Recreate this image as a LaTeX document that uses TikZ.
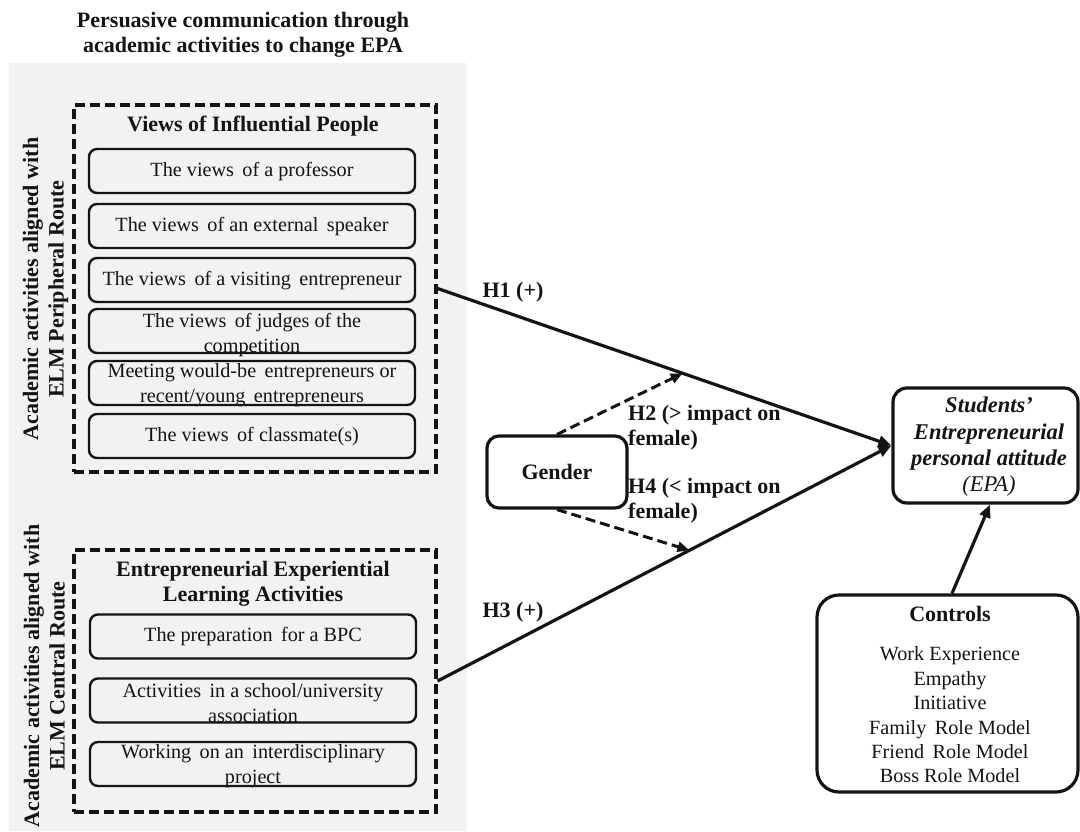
\documentclass[tikz,border=0pt]{standalone}
\usepackage{fontspec}
\setmainfont{Liberation Serif}
\usetikzlibrary{arrows.meta,calc}
\definecolor{bggray}{HTML}{F2F2F2}
\definecolor{ink}{HTML}{141414}
\begin{document}
\begin{tikzpicture}[x=1pt,y=-1pt,
  ttl/.style={font=\fontsize{22}{25.5}\selectfont\bfseries, align=center, text=ink, inner sep=0pt},
  txt/.style={font=\fontsize{20.2}{24.8}\selectfont, align=center, text=ink, inner sep=0pt},
  inbox/.style={draw=ink, line width=2.4pt, rounded corners=8pt, minimum width=326pt, minimum height=44pt, inner sep=0pt},
  dbox/.style={draw=ink, line width=3.2pt, dash pattern=on 10pt off 5pt, minimum width=362pt, inner sep=0pt},
  rbox/.style={draw=ink, line width=3.2pt, inner sep=0pt},
  conn/.style={draw=ink, line width=3.2pt, -{Triangle[length=13pt,width=11pt]}},
  dconn/.style={draw=ink, line width=3pt, dash pattern=on 10pt off 5pt, -{Triangle[length=12pt,width=10pt]}},
  hlab/.style={font=\fontsize{22}{25}\selectfont\bfseries, align=left, text=ink, inner sep=0pt}
]
\clip (0,0) rectangle (1080,831);
\fill[white] (0,0) rectangle (1080,831);
\fill[bggray] (9,63) rectangle (467,831);

\node[ttl] (title) at (243,35) {Persuasive communication through\\academic activities to change EPA};

% Peripheral route block
\node[dbox, minimum height=367pt] (vip) at (255,288.5) {};
\node[ttl] (viptitle) at (253,126) {Views of Influential People};
\node[inbox] (v1) at (252,171) {};
\node[txt] (v1t) at (252,172) {The views\, of a professor};
\node[inbox] (v2) at (252,226) {};
\node[txt] (v2t) at (252,227) {The views\, of an external\, speaker};
\node[inbox] (v3) at (252,280) {};
\node[txt] (v3t) at (252,281) {The views\, of a visiting\, entrepreneur};
\node[inbox] (v4) at (252,331) {};
\node[txt] (v4t) at (252,335) {The views\, of judges of the\\competition};
\node[inbox] (v5) at (252,383) {};
\node[txt] (v5t) at (252,385) {Meeting would-be\, entrepreneurs or\\recent/young\, entrepreneurs};
\node[inbox] (v6) at (252,436) {};
\node[txt] (v6t) at (252,437) {The views\, of classmate(s)};
\node[ttl, rotate=90] (lab1) at (45.5,289) {Academic activities aligned with\\ELM Peripheral Route};

% Central route block
\node[dbox, minimum height=262pt] (elc) at (255,681) {};
\node[ttl] (elctitle) at (253,584) {Entrepreneurial Experiential\\Learning Activities};
\node[inbox] (e1) at (253,636.5) {};
\node[txt] (e1t) at (253,637) {The preparation\, for a BPC};
\node[inbox] (e2) at (253,700.5) {};
\node[txt] (e2t) at (253,703) {Activities\, in a school/university\\association};
\node[inbox] (e3) at (253,764) {};
\node[txt] (e3t) at (253,766) {Working\, on an\, interdisciplinary\\project};
\node[ttl, rotate=90] (lab2) at (44.5,676) {Academic activities aligned with\\ELM Central Route};

% Gender, EPA, Controls
\node[rbox, rounded corners=12pt, minimum width=140pt, minimum height=72pt, fill=white] (gender) at (557,472) {};
\node[ttl] (gendert) at (557,472) {Gender};
\node[rbox, rounded corners=14pt, minimum width=185pt, minimum height=115pt] (epa) at (985.5,445.5) {};
\node[txt, font=\fontsize{22.5}{26.3}\selectfont] (epat) at (989,447) {\textbf{\textit{Students’}}\\\textbf{\textit{Entrepreneurial}}\\\textbf{\textit{personal attitude}}\\\textit{(EPA)}};
\node[rbox, rounded corners=22pt, minimum width=261pt, minimum height=197pt] (ctrl) at (947.5,693.5) {};
\node[ttl] (ctrlt) at (950,614) {Controls};
\node[txt, font=\fontsize{20.2}{24.4}\selectfont] (ctrli) at (950,715) {Work Experience\\Empathy\\Initiative\\Family\, Role Model\\Friend\, Role Model\\Boss Role Model};

% Connectors
\draw[conn] (vip.east) -- (epa.west);
\draw[conn] (elc.east) -- (epa.west);
\coordinate (h1mid) at ($(vip.east)!0.54!(epa.west)$);
\coordinate (h3mid) at ($(elc.east)!0.555!(epa.west)$);
\draw[dconn] (gender.north) -- (h1mid);
\draw[dconn] (gender.south) -- (h3mid);
\draw[conn] ($(ctrl.north)+(4.5,0)$) -- ($(epa.south)+(4.5,0)$);

% Hypothesis labels
\node[hlab] (h1) at (513,292) {H1 (+)};
\node[hlab] (h3) at (513,612) {H3 (+)};
\node[hlab, anchor=west] (h2) at (628,428) {H2 (> impact on\\female)};
\node[hlab, anchor=west] (h4) at (628,501) {H4 (< impact on\\female)};
\end{tikzpicture}
\end{document}
